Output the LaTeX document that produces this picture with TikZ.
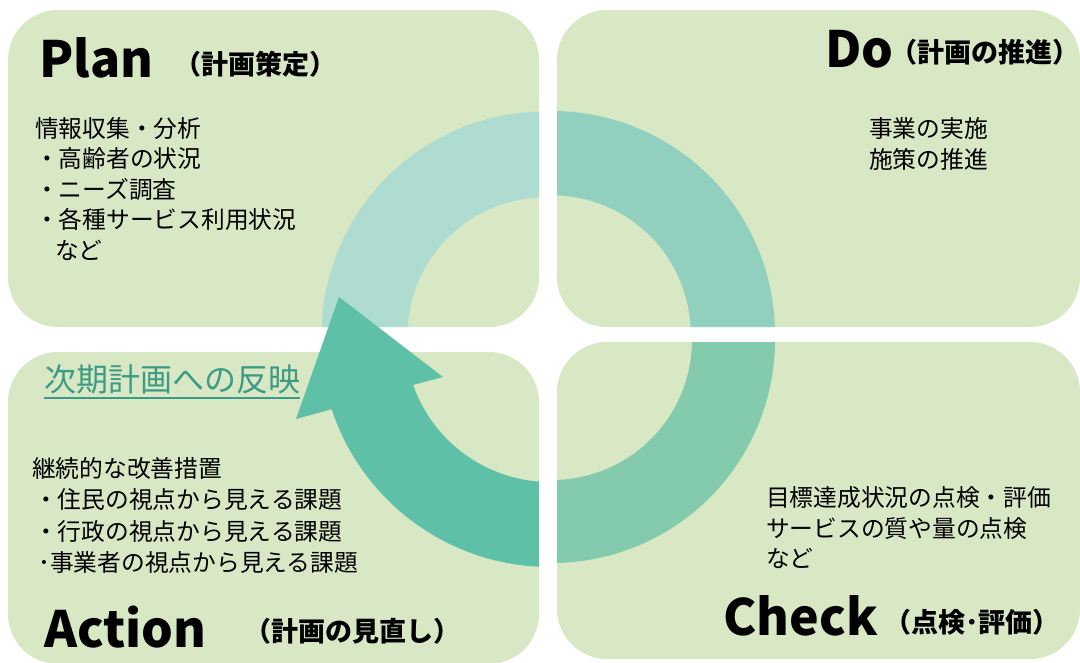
\documentclass[tikz,border=0pt]{standalone}
\usepackage{fontspec}
\setmainfont{Noto Sans CJK JP}
\definecolor{boxcol}{RGB}{216,232,196}
\definecolor{plancol}{RGB}{174,220,208}
\definecolor{docol}{RGB}{145,208,190}
\definecolor{checkcol}{RGB}{132,203,174}
\definecolor{arrowcol}{RGB}{93,192,167}
\definecolor{reflcol}{RGB}{61,155,133}
\tikzset{
  boxshape/.style={fill=boxcol, rounded corners=50pt},
  titletext/.style={font=\fontsize{50}{50}\selectfont\bfseries, anchor=base west, inner sep=0pt},
  subtext/.style={font=\fontsize{27}{27}\selectfont\bfseries, anchor=base west, inner sep=0pt},
  bodytext/.style={font=\fontsize{23.75}{30}\selectfont, anchor=base west, inner sep=0pt},
}
\begin{document}
\begin{tikzpicture}[x=1pt,y=-1pt]
\useasboundingbox (0,0) rectangle (1080,662);
% boxes
\path[boxshape] (8,10) rectangle (539,327);
\path[boxshape] (557,10) rectangle (1080,327);
\path[boxshape] (8,352) rectangle (539,664);
\path[boxshape] (557,342) rectangle (1080,659);
% quarter rings
\coordinate (pc) at (545,335);
\coordinate (dc) at (552,334);
\coordinate (cc) at (552,340);
\coordinate (ac) at (550,337);
\begin{scope}
  \clip[rounded corners=50pt] (8,10) rectangle (539,327);
  \fill[plancol] ([shift={(170:223.5)}]pc) arc[start angle=170, end angle=280, radius=223.5]
    -- ([shift={(280:137.5)}]pc) arc[start angle=280, end angle=170, radius=137.5] -- cycle;
\end{scope}
\begin{scope}
  \clip[rounded corners=50pt] (557,10) rectangle (1080,327);
  \fill[docol] ([shift={(260:223)}]dc) arc[start angle=260, end angle=370, radius=223]
    -- ([shift={(370:138.7)}]dc) arc[start angle=370, end angle=260, radius=138.7] -- cycle;
\end{scope}
\begin{scope}
  \clip[rounded corners=50pt] (557,342) rectangle (1080,659);
  \fill[checkcol] ([shift={(-10:223)}]cc) arc[start angle=-10, end angle=100, radius=223]
    -- ([shift={(100:140)}]cc) arc[start angle=100, end angle=-10, radius=140] -- cycle;
\end{scope}
% action arrow
\fill[arrowcol] ([shift={(92.7:230)}]ac) arc[start angle=92.7, end angle=161.7, radius=230]
  -- (296,419) -- (339,297) -- (443,377)
  -- ([shift={(160.7:145)}]ac) arc[start angle=160.7, end angle=94.3, radius=145] -- cycle;
% titles
\node[titletext] (plan) at (39,77) {Plan};
\node[subtext] (plansub) at (174,74) {（計画策定）};
\node[titletext] (do) at (825,67) {Do};
\node[subtext] (dosub) at (890.5,62) {（計画の推進）};
\node[titletext] (check) at (723,635) {Check};
\node[subtext] (checksub) at (884,632) {（点検･評価）};
\node[titletext] (action) at (44,647) {Action};
\node[subtext] (actionsub) at (244,641) {（計画の見直し）};
% plan body
\node[bodytext] (p1) at (35,137) {情報収集・分析};
\node[bodytext] (p2) at (35,167.5) {・高齢者の状況};
\node[bodytext] (p3) at (35,198) {・ニーズ調査};
\node[bodytext] (p4) at (35,228.5) {・各種サービス利用状況};
\node[bodytext] (p5) at (55,259) {など};
% do body
\node[bodytext] (d1) at (869,137) {事業の実施};
\node[bodytext] (d2) at (869,168) {施策の推進};
% check body
\node[bodytext] (c1) at (766,506) {目標達成状況の点検・評価};
\node[bodytext] (c2) at (766,537) {サービスの質や量の点検};
\node[bodytext] (c3) at (766,567) {など};
% action body
\node[bodytext] (a1) at (32,477) {継続的な改善措置};
\node[bodytext] (a2) at (34,508) {・住民の視点から見える課題};
\node[bodytext] (a3) at (34,540) {・行政の視点から見える課題};
\node[bodytext] (a4) at (38,571) {･事業者の視点から見える課題};
% reflect
\node[font=\fontsize{32}{32}\selectfont, text=reflcol, anchor=base west, inner sep=0pt] (refl) at (44,391) {次期計画への反映};
\draw[reflcol, line width=2pt] ([yshift=-7pt]refl.base west) -- ([yshift=-7pt]refl.base east);
\end{tikzpicture}
\end{document}
